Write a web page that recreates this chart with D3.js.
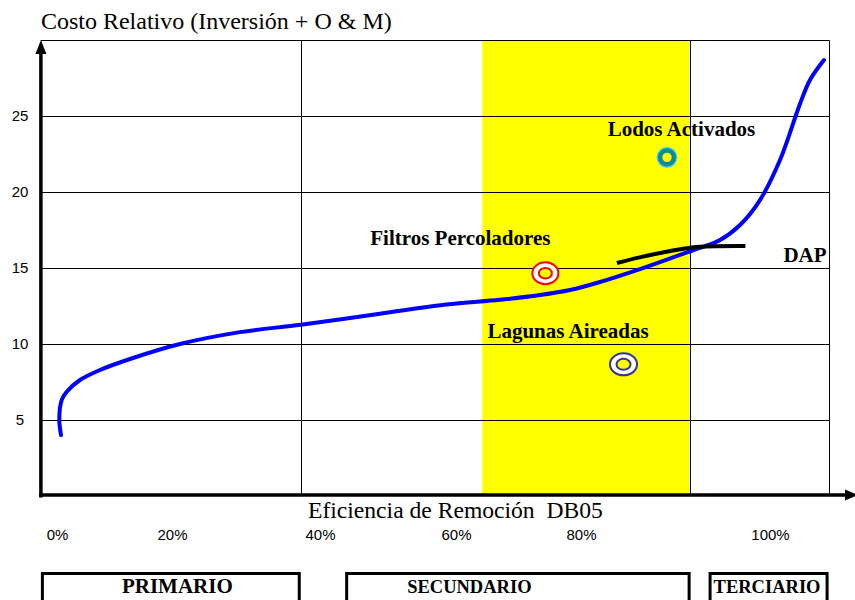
<!DOCTYPE html>
<html><head><meta charset="utf-8">
<script src="https://cdn.jsdelivr.net/npm/d3@7"></script>
<style>body{margin:0;background:#fff}svg{display:block}</style>
</head><body><svg id="c" width="855" height="600"></svg>
<script>
// ---- data ----
const xTickValues = [0, 20, 40, 60, 80, 100];
const xTickLabels = ["0%", "20%", "40%", "60%", "80%", "100%"];
const yTickValues = [5, 10, 15, 20, 25];
const yGridValues = [5, 10, 15, 20, 25, 30];
const curveEff  = [0.70, 0.40, 0.82, 1.69, 4.0, 7.48, 13.22, 21.08, 29.19, 37.43, 48.82, 58.56, 67.04, 73.44, 78.24, 82.01, 86.24, 90.48, 92.59, 94.71, 96.83, 98.94, 101.06, 103.17, 104.23, 105.71];
const curveCost = [4.01, 5.0, 6.32, 6.86, 7.63, 8.29, 9.08, 10.0, 10.78, 11.27, 11.99, 12.6, 12.91, 13.22, 13.55, 14.08, 14.93, 15.86, 16.32, 16.84, 17.83, 19.47, 22.1, 25.79, 27.37, 28.68];
const dapEff  = [83.8, 86.2, 90.5, 92.6, 97.4];
const dapCost = [15.33, 15.70, 16.23, 16.40, 16.45];
const procNames = ["Lodos Activados", "Filtros Percoladores", "Lagunas Aireadas"];
const procEff  = [89.1, 74.3, 84.5];
const procCost = [22.28, 14.65, 8.66];
const bandEff = [64.2, 91.5];
const dividerEff = [37.4, 91.5];
const frameEff = [-2.8, 106.2];
const costMax = 30;
const zoneNames = ["PRIMARIO", "SECUNDARIO", "TERCIARIO"];
const zoneFrom = [-2.8, 43.7, 93.5];
const zoneTo   = [37.4, 91.6, 106.2];
const yTitle = "Costo Relativo (Inversión + O & M)";
const xTitle = "Eficiencia de Remoción  DB05";
const dapLabel = "DAP";

// ---- layout ----
const svg = d3.select("#c");
const SERIF = "'Liberation Serif','Times New Roman',serif";
const SANS = "'Liberation Sans',Arial,sans-serif";
const x = d3.scaleLinear().domain(xTickValues).range([57, 172, 320, 456, 581, 770]);
const y = d3.scaleLinear().domain([0, costMax]).range([496, 40]);
const L = x(frameEff[0]), R = x(frameEff[1]), T = y(costMax), B = y(0);
const crisp = v => Math.round(v) + 0.5;

// yellow band
svg.append("rect").attr("x", x(bandEff[0])).attr("y", T)
  .attr("width", x(bandEff[1]) - x(bandEff[0])).attr("height", B - T)
  .attr("fill", "#ffff00");

// grid
const grid = svg.append("g").attr("stroke", "#000").attr("stroke-width", 1);
grid.selectAll("line.h").data(yGridValues).join("line").attr("class", "h")
  .attr("x1", L).attr("x2", crisp(R)).attr("y1", d => crisp(y(d))).attr("y2", d => crisp(y(d)));
grid.selectAll("line.v").data(dividerEff.concat([frameEff[1]])).join("line").attr("class", "v")
  .attr("x1", d => crisp(x(d))).attr("x2", d => crisp(x(d))).attr("y1", crisp(T)).attr("y2", B);

// axes lines
svg.append("line").attr("x1", L).attr("x2", L).attr("y1", T + 12).attr("y2", B + 1.5)
  .attr("stroke", "#000").attr("stroke-width", 3.5);
svg.append("path").attr("d", `M${L},${T} L${L - 5.5},${T + 14} L${L + 5.5},${T + 14} Z`).attr("fill", "#000");
svg.append("line").attr("x1", L - 1.7).attr("x2", 848).attr("y1", B - 1).attr("y2", B - 1)
  .attr("stroke", "#000").attr("stroke-width", 3.5);
svg.append("path").attr("d", `M858,${B - 1} L845,${B - 6.5} L845,${B + 4.5} Z`).attr("fill", "#000");

// y ticks
const yAxis = svg.append("g").attr("transform", `translate(${L},0)`)
  .call(d3.axisLeft(y).tickValues(yTickValues).tickSize(0));
yAxis.select(".domain").remove();
yAxis.selectAll("text").attr("x", 20 - L).attr("text-anchor", "middle")
  .style("font-family", SANS).style("font-size", "15px").attr("fill", "#000");

// x ticks
const xAxis = svg.append("g").attr("transform", `translate(0,${B})`)
  .call(d3.axisBottom(x).tickValues(xTickValues).tickFormat((d, i) => xTickLabels[i]).tickSize(0));
xAxis.select(".domain").remove();
xAxis.selectAll("text").attr("y", 44).attr("dy", 0)
  .style("font-family", SANS).style("font-size", "15px").attr("fill", "#000");

// titles
svg.append("text").attr("x", L).attr("y", 29).text(yTitle)
  .style("font-family", SERIF).style("font-size", "24px");
svg.append("text").attr("x", 308).attr("y", 518).text(xTitle)
  .style("font-family", SERIF).style("font-size", "23.6px").style("white-space", "pre");

// main curve
const curvePts = curveEff.map((e, i) => [x(e), y(curveCost[i])]);
svg.append("path").attr("d", d3.line().curve(d3.curveCatmullRom.alpha(0.5))(curvePts))
  .attr("fill", "none").attr("stroke", "#0000ff").attr("stroke-width", 4).attr("stroke-linecap", "round");

// DAP line
const dapPts = dapEff.map((e, i) => [x(e), y(dapCost[i])]);
svg.append("path").attr("d", d3.line().curve(d3.curveCatmullRom.alpha(0.5))(dapPts))
  .attr("fill", "none").attr("stroke", "#000").attr("stroke-width", 4);
svg.append("text").attr("x", x(dapEff[dapEff.length - 1]) + 38).attr("y", y(dapCost[dapCost.length - 1]) + 16)
  .text(dapLabel).style("font-family", SERIF).style("font-size", "21px").style("font-weight", "bold");

// process markers
const px = procEff.map(e => x(e)), py = procCost.map(c => y(c));
// Lodos Activados
svg.append("circle").attr("cx", px[0]).attr("cy", py[0]).attr("r", 10.3).attr("fill", "#33ccff");
svg.append("circle").attr("cx", px[0]).attr("cy", py[0]).attr("r", 6.9)
  .attr("fill", "#ffff00").attr("stroke", "#0a8a9a").attr("stroke-width", 4.4);
// Filtros Percoladores
svg.append("ellipse").attr("cx", px[1]).attr("cy", py[1]).attr("rx", 13).attr("ry", 11)
  .attr("fill", "#fff").attr("stroke", "#ff0000").attr("stroke-width", 2);
svg.append("ellipse").attr("cx", px[1]).attr("cy", py[1]).attr("rx", 6.5).attr("ry", 5.3)
  .attr("fill", "#ffff00").attr("stroke", "#ff0000").attr("stroke-width", 2);
// Lagunas Aireadas
svg.append("ellipse").attr("cx", px[2]).attr("cy", py[2]).attr("rx", 13.5).attr("ry", 11)
  .attr("fill", "#fff").attr("stroke", "#333399").attr("stroke-width", 2);
svg.append("ellipse").attr("cx", px[2]).attr("cy", py[2]).attr("rx", 7).attr("ry", 5.5)
  .attr("fill", "#ffff00").attr("stroke", "#333399").attr("stroke-width", 2);

// labels
const labelOff = [[14.5, -21], [-85, -28], [-55.5, -26]];
const labels = svg.append("g");
procNames.forEach((n, i) => {
  const t = labels.append("text").attr("x", px[i] + labelOff[i][0]).attr("y", py[i] + labelOff[i][1])
    .attr("text-anchor", "middle").text(n)
    .style("font-family", SERIF).style("font-size", "21px").style("font-weight", "bold");
  if (i === 0) {
    const bb = t.node().getBBox();
    const dx = crisp(x(dividerEff[1])) + 0.5;
    labels.insert("rect", "text").attr("x", dx).attr("y", bb.y + 2)
      .attr("width", bb.x + bb.width - dx + 2).attr("height", py[i] + labelOff[i][1] + 1 - (bb.y + 2))
      .attr("fill", "#fff");
  }
});

// zone boxes
const zoneDx = [81, 62, 5];
const zoneFs = [21, 18.5, 18.5];
zoneNames.forEach((n, i) => {
  const x0 = x(zoneFrom[i]), x1 = x(zoneTo[i]);
  svg.append("rect").attr("x", x0 + 1.5).attr("y", 573.5).attr("width", x1 - x0 - 3).attr("height", 40)
    .attr("fill", "#fff").attr("stroke", "#000").attr("stroke-width", 3);
  svg.append("text").attr("x", x0 + zoneDx[i]).attr("y", 592.5).text(n)
    .style("font-family", SERIF).style("font-size", zoneFs[i] + "px").style("font-weight", "bold");
});
</script></body></html>
